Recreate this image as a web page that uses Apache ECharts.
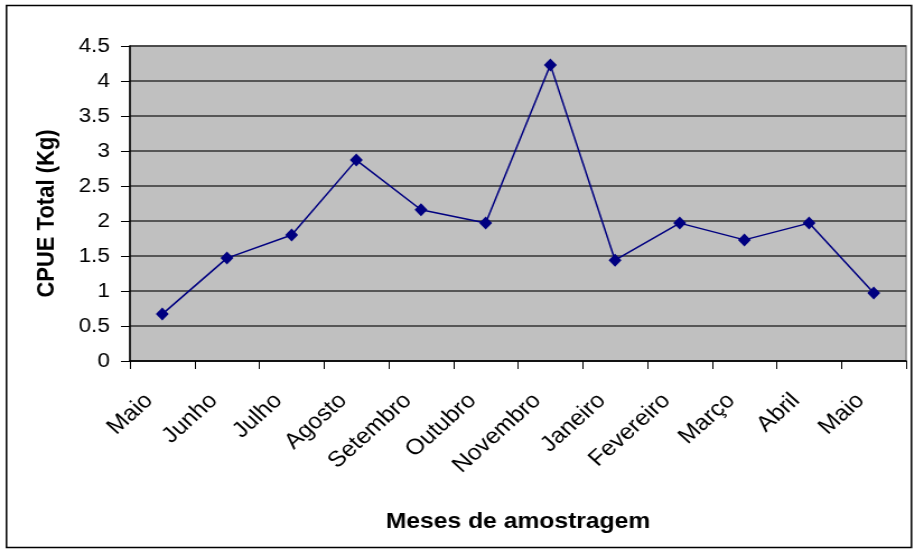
<!DOCTYPE html>
<html>
<head>
<meta charset="utf-8">
<script src="https://cdn.jsdelivr.net/npm/echarts@6/dist/echarts.min.js"></script>
<style>
  html, body { margin: 0; padding: 0; background: #fff; overflow: hidden; }
  /* the original picture is a little wider than tall, so draw narrow and stretch */
  #chart { width: 816px; height: 552px; transform: scaleX(1.12); transform-origin: 0 0; }
</style>
</head>
<body>
<div id="chart"></div>
<script>
// Monthly sampling CPUE
const months = ['Maio', 'Junho', 'Julho', 'Agosto', 'Setembro', 'Outubro', 'Novembro',
                'Janeiro', 'Fevereiro', 'Março', 'Abril', 'Maio'];
const cpue = [0.67, 1.47, 1.80, 2.87, 2.16, 1.97, 4.23, 1.44, 1.97, 1.73, 1.97, 0.97];

const chart = echarts.init(document.getElementById('chart'));

chart.setOption({
    animation: false,
    backgroundColor: '#fff',
    graphic: [{
        type: 'rect',
        shape: { x: 5.8, y: 5.5, width: 808, height: 542 },
        style: { fill: 'none', stroke: '#000', lineWidth: 1.5 },
        silent: true
    }],
    grid: {
        left: 116,
        right: 7,
        top: 46,
        bottom: 191,
        show: true,
        backgroundColor: '#C0C0C0',
        borderColor: '#808080',
        borderWidth: 1.5
    },
    xAxis: {
        type: 'category',
        data: months,
        boundaryGap: true,
        name: 'Meses de amostragem',
        nameLocation: 'middle',
        nameGap: 135,
        nameTextStyle: {
            fontFamily: 'Liberation Sans',
            fontWeight: 'bold',
            fontSize: 22,
            color: '#000'
        },
        axisLine: { lineStyle: { color: '#000', width: 1.5 } },
        axisTick: { show: true, length: 8, lineStyle: { color: '#000' } },
        axisLabel: {
            rotate: 45,
            interval: 0,
            showMinLabel: true,
            showMaxLabel: true,
            hideOverlap: false,
            margin: 48,
            // empty second line lifts the text so its top corner sits near the tick
            formatter: v => v + '\n ',
            lineHeight: 33,
            fontFamily: 'Liberation Sans',
            fontSize: 22,
            color: '#000'
        },
        splitLine: { show: false }
    },
    yAxis: {
        type: 'value',
        min: 0,
        max: 4.5,
        interval: 0.5,
        name: 'CPUE Total (Kg)',
        nameLocation: 'middle',
        nameGap: 63,
        nameTextStyle: {
            fontFamily: 'Liberation Sans',
            fontWeight: 'bold',
            fontSize: 22,
            color: '#000',
            padding: [0, 20, 0, 0]
        },
        axisLine: { show: true, lineStyle: { color: '#000', width: 1.5 } },
        axisTick: { show: true, length: 8, lineStyle: { color: '#000' } },
        axisLabel: {
            margin: 18,
            fontFamily: 'Liberation Sans',
            fontSize: 20,
            color: '#000'
        },
        splitLine: { show: true, lineStyle: { color: '#333', width: 1.5 } }
    },
    series: [{
        type: 'line',
        data: cpue,
        symbol: 'diamond',
        symbolSize: [11.5, 13],
        lineStyle: { color: '#000080', width: 1.5 },
        itemStyle: { color: '#000080' }
    }]
});
</script>
</body>
</html>
